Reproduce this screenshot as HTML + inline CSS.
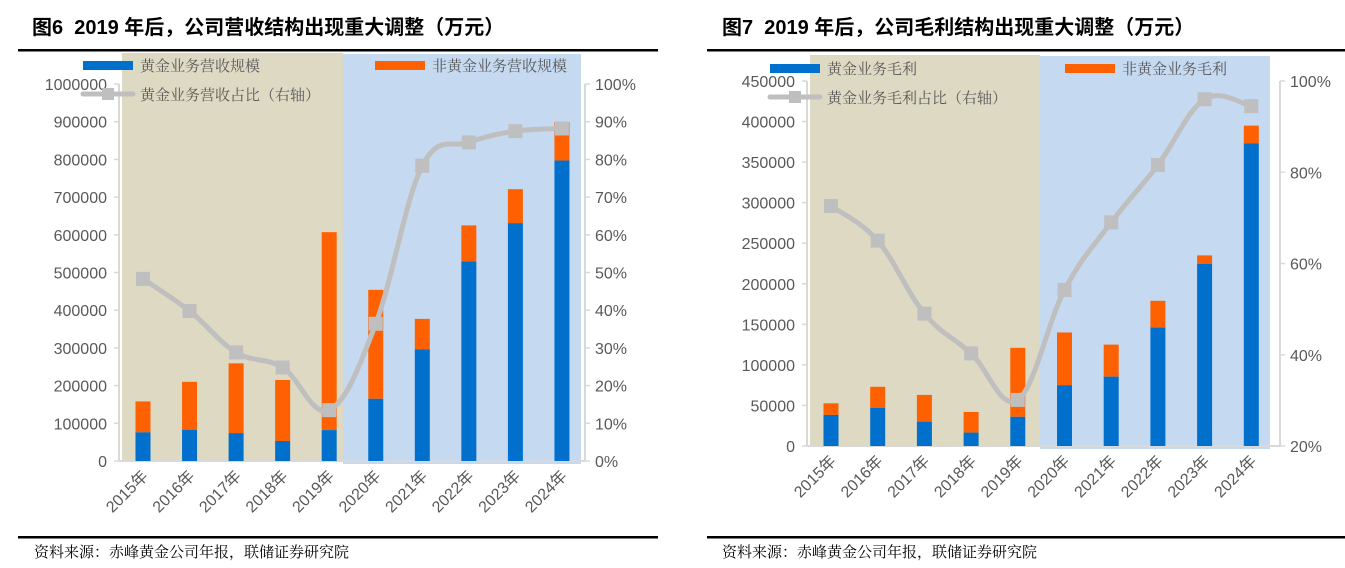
<!DOCTYPE html>
<html><head><meta charset="utf-8">
<style>
html,body{margin:0;padding:0;background:#fff;}
svg{display:block;}
.t{font-family:"Liberation Sans","Noto Sans CJK SC",sans-serif;font-weight:bold;font-size:20px;fill:#000;white-space:pre;}
.tick{font-family:"Liberation Sans",sans-serif;font-size:16px;fill:#595959;}
.xl{font-family:"Liberation Sans","Noto Sans CJK SC",sans-serif;font-size:16px;fill:#595959;}
.lg{font-family:"Noto Serif CJK SC","Liberation Serif",serif;font-size:15px;fill:#595959;}
.src{font-family:"Noto Serif CJK SC","Liberation Serif",serif;font-size:15px;fill:#000;}
</style></head>
<body>
<svg id="s" width="1345" height="568" xmlns="http://www.w3.org/2000/svg">
<text class="t" x="32" y="34" xml:space="preserve">图6  2019 年后，公司营收结构出现重大调整（万元）</text>
<text class="t" x="722" y="34" xml:space="preserve">图7  2019 年后，公司毛利结构出现重大调整（万元）</text>
<rect x="18" y="49" width="640" height="2.5" fill="#000"/>
<rect x="707" y="49" width="638" height="2.5" fill="#000"/>
<rect x="18" y="536" width="640" height="2.5" fill="#000"/>
<rect x="707" y="536" width="638" height="2.5" fill="#000"/>
<text class="src" x="34" y="557">资料来源：赤峰黄金公司年报，联储证券研究院</text>
<text class="src" x="722" y="557">资料来源：赤峰黄金公司年报，联储证券研究院</text>
</svg>
<script>
const years=["2015年","2016年","2017年","2018年","2019年","2020年","2021年","2022年","2023年","2024年"];
const revGold=[76000,83000,74000,53000,82000,165000,296000,529000,631000,797000];
const revTotal=[158000,210000,259000,215000,607000,454000,377000,625000,721000,899000];
const revShare=[48.3,39.8,28.8,24.8,13.5,36.4,78.3,84.5,87.5,88.2];
const revTicks=[0,100000,200000,300000,400000,500000,600000,700000,800000,900000,1000000];
const revPctTicks=[0,10,20,30,40,50,60,70,80,90,100];
const gpGold=[38300,47000,30000,16500,36000,75000,85500,146000,224500,373000];
const gpTotal=[52600,73000,63000,42000,121000,140000,125000,179000,235000,395000];
const gpShare=[72.6,65.0,49.0,40.3,30.1,54.2,69.0,81.6,96.0,94.5];
const gpTicks=[0,50000,100000,150000,200000,250000,300000,350000,400000,450000];
const gpPctTicks=[20,40,60,80,100];

const NS="http://www.w3.org/2000/svg";
const svg=document.getElementById('s');
function mk(tag,attrs,parent){const e=document.createElementNS(NS,tag);for(const k in attrs)e.setAttribute(k,attrs[k]);(parent||svg).appendChild(e);return e;}

function chart(c){
  const g=mk('g',{});
  
  
  const y=v=>c.y0-(v-c.vmin)/(c.vmax-c.vmin)*(c.y0-c.y1);
  const yp=p=>c.y0-(p-c.pmin)/(c.pmax-c.pmin)*(c.y0-c.y1);
  const x=i=>c.x0+i*c.step;
  const bgL=mk('rect',{x:c.bgx0,y:c.bgy,width:c.bgmid-c.bgx0,height:c.y0-c.bgy,fill:'#ddd9c3'},g);
  
  
  const bgR=mk('rect',{x:c.bgmid,y:c.bgy+1,width:c.bgx1-c.bgmid,height:c.y0-c.bgy+2,fill:'#c5d9f1'},g);
  
  
  const la=mk('line',{x1:c.ax,y1:c.y1,x2:c.ax,y2:c.y0,stroke:'#d9d9d9','stroke-width':2},g);
  
  
  const ra=mk('line',{x1:c.rx,y1:c.y1,x2:c.rx,y2:c.y0,stroke:'#d9d9d9','stroke-width':2},g);
  
  
  const xa=mk('line',{x1:c.ax,y1:c.y0,x2:c.rx,y2:c.y0,stroke:'#d9d9d9','stroke-width':2},g);
  
  
  c.ticks.forEach(v=>{
    mk('line',{x1:c.ax-5,y1:y(v),x2:c.ax,y2:y(v),stroke:'#d9d9d9','stroke-width':1.5},g);
    const t=mk('text',{x:c.ax-12,y:y(v)+6,'text-anchor':'end',class:'tick'},g);
    t.textContent=v;
    
    
  });
  c.pticks.forEach(p=>{
    mk('line',{x1:c.rx,y1:yp(p),x2:c.rx+5,y2:yp(p),stroke:'#d9d9d9','stroke-width':1.5},g);
    const t=mk('text',{x:c.rx+10,y:yp(p)+6,class:'tick'},g);
    t.textContent=p+'%';
    
    
  });
  years.forEach((yr,i)=>{
    const o=mk('rect',{x:x(i)-c.bw/2,y:y(c.total[i]),width:c.bw,height:y(c.gold[i])-y(c.total[i]),fill:'#ff6000'},g);
    
    
    const b=mk('rect',{x:x(i)-c.bw/2,y:y(c.gold[i]),width:c.bw,height:c.y0-y(c.gold[i]),fill:'#0070cc'},g);
    
    
    const t=mk('text',{x:x(i)+6,y:c.y0+16,'text-anchor':'end',class:'xl',transform:`rotate(-45 ${x(i)+6} ${c.y0+16})`},g);
    t.textContent=yr;
    
    
  });
  const pts=c.share.map((p,i)=>[x(i),yp(p)]);
  let d=`M${pts[0][0]},${pts[0][1]}`;
  for(let i=0;i<pts.length-1;i++){
    const p0=pts[Math.max(0,i-1)],p1=pts[i],p2=pts[i+1],p3=pts[Math.min(pts.length-1,i+2)];
    const t=0.36;
    const c1=[p1[0]+(p2[0]-p0[0])*t/2,p1[1]+(p2[1]-p0[1])*t/2];
    const c2=[p2[0]-(p3[0]-p1[0])*t/2,p2[1]-(p3[1]-p1[1])*t/2];
    d+=` C${c1[0]},${c1[1]} ${c2[0]},${c2[1]} ${p2[0]},${p2[1]}`;
  }
  const ln=mk('path',{d:d,fill:'none',stroke:'#bfbfbf','stroke-width':5,'stroke-linejoin':'round'},g);
  
  
  pts.forEach(p=>{
    const m=mk('rect',{x:p[0]-7,y:p[1]-7,width:14,height:14,fill:'#bfbfbf'},g);
    
    
  });
  const l1=mk('rect',{x:c.lx,y:c.ly-4,width:50,height:9,fill:'#0070cc'},g);
  
  
  const t1=mk('text',{x:c.lx+57,y:c.ly+6,class:'lg'},g);t1.textContent=c.lab1;
  
  
  const l2=mk('rect',{x:c.lx2,y:c.ly-4,width:50,height:9,fill:'#ff6000'},g);
  
  
  const t2=mk('text',{x:c.lx2+57,y:c.ly+6,class:'lg'},g);t2.textContent=c.lab2;
  
  
  const l3=mk('line',{x1:c.lx,y1:c.ly+29,x2:c.lx+50,y2:c.ly+29,stroke:'#bfbfbf','stroke-width':5,'stroke-linecap':'round'},g);
  
  
  mk('rect',{x:c.lx+19,y:c.ly+23,width:12,height:12,fill:'#bfbfbf'},g);
  const t3=mk('text',{x:c.lx+57,y:c.ly+35,class:'lg'},g);t3.textContent=c.lab3;
  
  
}

chart({name:'revenue-chart',gold:revGold,total:revTotal,share:revShare,ticks:revTicks,pticks:revPctTicks,
  vmin:0,vmax:1000000,pmin:0,pmax:100,y0:461,y1:84,x0:143,step:46.55,bw:15,ax:119,rx:585,
  bgx0:122,bgmid:343,bgx1:581,bgy:53,lx:83,lx2:375,ly:65,
  lab1:'黄金业务营收规模',lab2:'非黄金业务营收规模',lab3:'黄金业务营收占比（右轴）'});
chart({name:'gross-profit-chart',gold:gpGold,total:gpTotal,share:gpShare,ticks:gpTicks,pticks:gpPctTicks,
  vmin:0,vmax:450000,pmin:20,pmax:100,y0:446,y1:81,x0:831,step:46.7,bw:15,ax:807,rx:1280,
  bgx0:810,bgmid:1040,bgx1:1270,bgy:55,lx:770,lx2:1065,ly:68,
  lab1:'黄金业务毛利',lab2:'非黄金业务毛利',lab3:'黄金业务毛利占比（右轴）'});
</script>
</body></html>
